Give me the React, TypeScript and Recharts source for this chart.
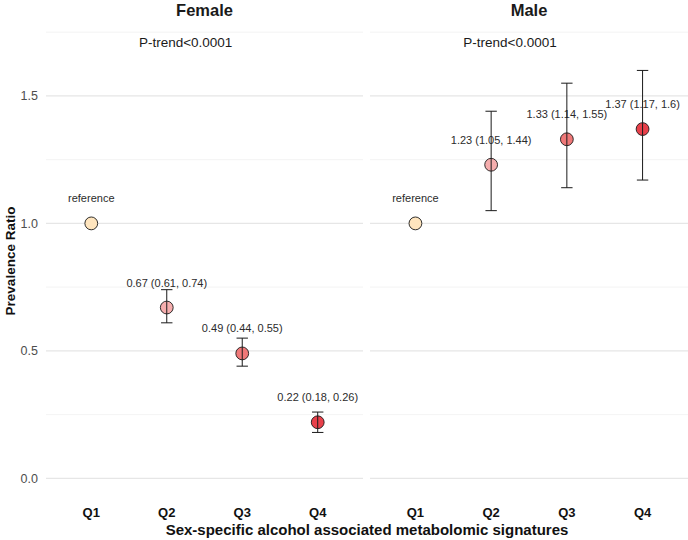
import React from 'react';
import { ComposedChart, Scatter, ErrorBar, XAxis, YAxis, ReferenceLine, ReferenceDot } from 'recharts';

// Quartiles of the metabolomic signature
const categories = ['Q1', 'Q2', 'Q3', 'Q4'];
const quartilePos = [1, 2, 3, 4];

// Prevalence ratios with 95% CI (Q1 is the reference group)
const femalePR = [1, 0.67, 0.49, 0.22];
const femaleLower = [null, 0.61, 0.44, 0.18];
const femaleUpper = [null, 0.74, 0.55, 0.26];

const malePR = [1, 1.23, 1.33, 1.37];
const maleLower = [null, 1.05, 1.14, 1.17];
const maleUpper = [null, 1.44, 1.55, 1.6];

const quartileFills = ['#FFE5BE', '#F6AEAE', '#EF7878', '#E8404A'];

const majorTicks = [0, 0.5, 1, 1.5];
const minorTicks = [0.25, 0.75, 1.25, 1.75];
const yDomain: [number, number] = [-0.085, 1.79];

const pTrendLabel = 'P-trend<0.0001';
const pTrendPos = { x: 2.25, y: 1.71 };

const FONT = 'Liberation Sans, Arial, Helvetica, sans-serif';

type Row = {
  pos: number;
  pr: number;
  err: [number, number] | null;
  fill: string;
  label: string;
};

const buildRows = (pr: number[], lower: (number | null)[], upper: (number | null)[]): Row[] =>
  pr.map((v, i) => {
    const lo = lower[i];
    const hi = upper[i];
    const hasCI = lo != null && hi != null;
    return {
      pos: quartilePos[i],
      pr: v,
      err: hasCI ? [v - (lo as number), (hi as number) - v] : null,
      fill: quartileFills[i],
      label: hasCI ? `${v} (${lo}, ${hi})` : 'reference',
    };
  });

const femaleRows = buildRows(femalePR, femaleLower, femaleUpper);
const maleRows = buildRows(malePR, maleLower, maleUpper);

const PointWithLabel = (props: any) => {
  const { cx, cy, payload } = props;
  if (cx == null || cy == null) return <g />;
  return (
    <g>
      <circle cx={cx} cy={cy} r={6.4} fill={payload.fill} stroke="#1a1a1a" strokeWidth={0.9} />
      <text
        x={cx}
        y={cy - 25}
        textAnchor="middle"
        dominantBaseline="central"
        fontSize={11}
        fill="#2b2b2b"
        fontFamily={FONT}
      >
        {payload.label}
      </text>
    </g>
  );
};

const Panel: React.FC<{ rows: Row[]; width: number; showY: boolean }> = ({ rows, width, showY }) => (
  <ComposedChart width={width} height={540} margin={{ top: 22, right: 0, bottom: 0, left: 0 }}>
    <XAxis
      type="number"
      dataKey="pos"
      domain={[0.4, 4.6]}
      ticks={quartilePos}
      allowDataOverflow
      tickFormatter={(v: number) => categories[v - 1]}
      axisLine={false}
      tickLine={false}
      height={40}
      tick={{ fill: '#111', fontSize: 13, fontWeight: 700, fontFamily: FONT }}
    />
    <YAxis
      type="number"
      dataKey="pr"
      domain={yDomain}
      ticks={majorTicks}
      allowDataOverflow
      hide={!showY}
      width={46}
      axisLine={false}
      tickLine={false}
      tickFormatter={(v: number) => v.toFixed(1)}
      tick={{ fill: '#4D4D4D', fontSize: 12.5, fontFamily: FONT }}
      label={
        showY
          ? {
              content: (p: any) => {
                const vb = p.viewBox || { x: 0, y: 22, width: 46, height: 478 };
                const cy = vb.y + vb.height / 2;
                return (
                  <text
                    transform={`translate(${vb.x + 10}, ${cy}) rotate(-90)`}
                    textAnchor="middle"
                    dominantBaseline="central"
                    fontSize={13.5}
                    fontWeight={700}
                    fill="#111"
                    fontFamily={FONT}
                  >
                    Prevalence Ratio
                  </text>
                );
              },
            }
          : undefined
      }
    />
    {minorTicks.map((t) => (
      <ReferenceLine key={`mi${t}`} y={t} stroke="#F0F0F0" strokeWidth={0.8} />
    ))}
    {majorTicks.map((t) => (
      <ReferenceLine key={`ma${t}`} y={t} stroke="#E6E6E6" strokeWidth={1.2} />
    ))}
    <ReferenceDot
      x={pTrendPos.x}
      y={pTrendPos.y}
      r={0}
      fill="none"
      stroke="none"
      label={{ value: pTrendLabel, position: 'center', fill: '#1a1a1a', fontSize: 13.5, fontFamily: FONT }}
    />
    <Scatter data={rows} dataKey="pr" shape={PointWithLabel} isAnimationActive={false} />
    {/* CI whiskers go on top of the points */}
    <Scatter
      data={rows.filter((r) => r.err)}
      dataKey="pr"
      shape={() => <g />}
      isAnimationActive={false}
      zIndex={700}
    >
      <ErrorBar
        dataKey="err"
        direction="y"
        width={5.7}
        stroke="#1a1a1a"
        strokeWidth={1}
        isAnimationActive={false}
        zIndex={700}
      />
    </Scatter>
  </ComposedChart>
);

const stripStyle: React.CSSProperties = {
  position: 'absolute',
  top: 0,
  height: 22,
  lineHeight: '20px',
  textAlign: 'center',
  fontFamily: FONT,
  fontWeight: 700,
  fontSize: 16.5,
  color: '#1a1a1a',
};

export default function App() {
  return (
    <div style={{ position: 'absolute', left: 0, top: 0, width: 688, height: 540, background: '#fff' }}>
      <div style={{ position: 'absolute', left: 0, top: 0 }}>
        <Panel rows={femaleRows} width={363} showY />
      </div>
      <div style={{ position: 'absolute', left: 370, top: 0 }}>
        <Panel rows={maleRows} width={318} showY={false} />
      </div>
      <div style={{ ...stripStyle, left: 46, width: 317 }}>Female</div>
      <div style={{ ...stripStyle, left: 370, width: 318 }}>Male</div>
      <div
        style={{
          position: 'absolute',
          left: 46,
          width: 642,
          top: 520,
          textAlign: 'center',
          fontFamily: FONT,
          fontWeight: 700,
          fontSize: 15,
          color: '#111',
          lineHeight: '20px',
        }}
      >
        Sex-specific alcohol associated metabolomic signatures
      </div>
    </div>
  );
}
